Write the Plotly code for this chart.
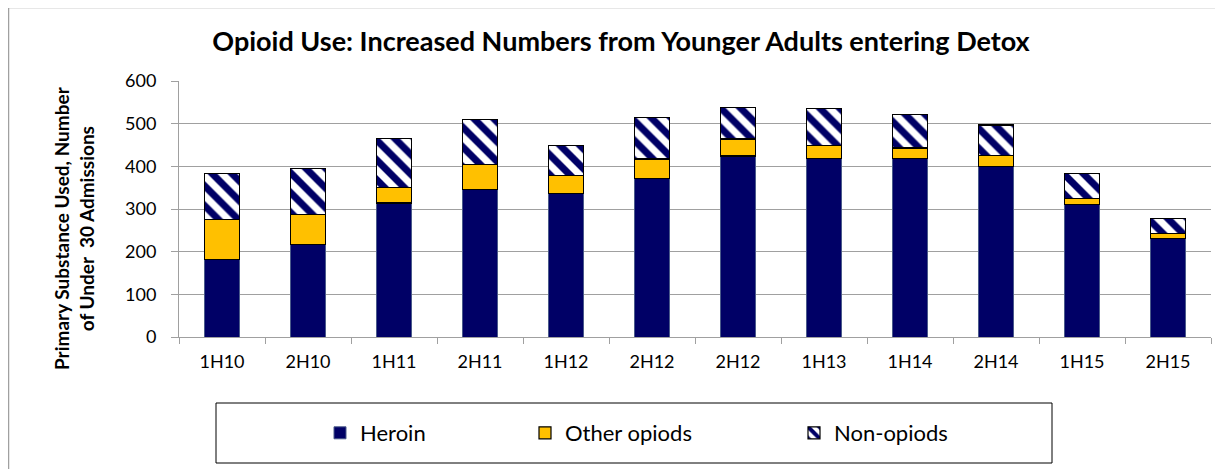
import plotly.graph_objects as go

periods = ["1H10", "2H10", "1H11", "2H11", "1H12", "2H12", "2H12", "1H13", "1H14", "2H14", "1H15", "2H15"]
heroin = [181, 217, 314, 345, 337, 372, 424, 418, 418, 400, 310, 231]
other_opiods = [95, 71, 36, 60, 42, 45, 40, 31, 25, 26, 14, 11]
non_opiods = [107, 106, 115, 104, 69, 98, 74, 86, 78, 71, 60, 36]

# the page body adds an 8px offset; work in page pixels and subtract it
OFF = 8
W, H = 1223 - OFF, 469 - OFF
L = 179 - OFF
T = 81 - OFF
R = W - (1211 - OFF)
B = H - (337 - OFF)
pw, ph = W - L - R, H - T - B

NAVY = "#000066"
YELLOW = "#FFC000"
FONT = "Lato, 'Open Sans', sans-serif"

xpos = list(range(len(periods)))


def px_x(x):
    return (x - OFF - L) / pw


def px_y(y):
    return (T + ph - (y - OFF)) / ph


fig = go.Figure()
fig.add_trace(go.Bar(
    x=xpos, y=heroin, name="Heroin", legend="legend", showlegend=True,
    marker=dict(color=NAVY, line=dict(color="#4a5a8a", width=1)),
))
fig.add_trace(go.Bar(
    x=xpos, y=other_opiods, name="Other opiods", legend="legend2", showlegend=True,
    marker=dict(color=YELLOW, line=dict(color="#000000", width=1.2)),
))
fig.add_trace(go.Bar(
    x=xpos, y=non_opiods, name="Non-opiods", legend="legend3", showlegend=True,
    marker=dict(color="white", line=dict(color="#000000", width=1.2),
                pattern=dict(shape="\\", fgcolor=NAVY, bgcolor="white", size=14,
                             solidity=0.5, fgopacity=1)),
))


def leg(x, y):
    return dict(x=px_x(x), y=px_y(y), xanchor="left", yanchor="middle", visible=True,
                bgcolor="rgba(0,0,0,0)", font=dict(family=FONT, size=22, color="#000"),
                borderwidth=0)


fig.update_layout(
    width=W, height=H,
    margin=dict(l=L, r=R, t=T, b=B, autoexpand=False),
    paper_bgcolor="white", plot_bgcolor="white",
    barmode="stack", bargap=0.585, showlegend=True,
    font=dict(family=FONT, color="#000"),
    title=dict(text="<b>Opioid Use: Increased Numbers from Younger Adults entering Detox</b>",
               x=(621 - OFF) / W, y=1 - (42 - OFF) / H, xanchor="center", yanchor="middle",
               font=dict(family=FONT, size=27, color="#000")),
    legend=leg(320, 433),
    legend2=leg(525, 433),
    legend3=leg(794, 433),
    xaxis=dict(
        range=[-0.5, len(periods) - 0.5], tickmode="array", tickvals=xpos, ticktext=periods,
        ticks="", showgrid=False, showline=True, linecolor="#a0a0a0", linewidth=1,
        tickfont=dict(family=FONT, size=18, color="#000"), automargin=False,
        ticklabelstandoff=8,
        minor=dict(tickmode="array", tickvals=[i - 0.5 for i in range(len(periods) + 1)],
                   ticks="outside", ticklen=6, tickcolor="#a0a0a0", showgrid=False),
        zeroline=False,
    ),
    yaxis=dict(
        range=[0, 600], dtick=100, showgrid=True, gridcolor="#a0a0a0", gridwidth=1,
        showline=True, linecolor="#a0a0a0", linewidth=1,
        ticks="outside", ticklen=7, tickcolor="#a0a0a0",
        tickfont=dict(family=FONT, size=18, color="#000"), automargin=False,
        ticklabelstandoff=11,
        zeroline=False,
    ),
    annotations=[
        dict(text="<b>Primary Substance Used, Number<br>of Under  30 Admissions</b>",
             xref="paper", yref="paper", x=px_x(74), y=px_y(228),
             xanchor="center", yanchor="middle", textangle=-90, showarrow=False,
             font=dict(family=FONT, size=19, color="#000")),
    ],
    shapes=[
        dict(type="rect", xref="paper", yref="paper",
             x0=px_x(216), x1=px_x(1052), y0=px_y(463), y1=px_y(403),
             line=dict(color="#000000", width=1), fillcolor="rgba(0,0,0,0)", layer="below"),
        dict(type="rect", xref="paper", yref="paper",
             x0=px_x(8.5), x1=px_x(1223 + 20), y0=px_y(469 + 20), y1=px_y(7.5),
             line=dict(color="#a0a0a0", width=1.5), fillcolor="rgba(0,0,0,0)", layer="below"),
    ],
)

fig.write_html("out.html")
